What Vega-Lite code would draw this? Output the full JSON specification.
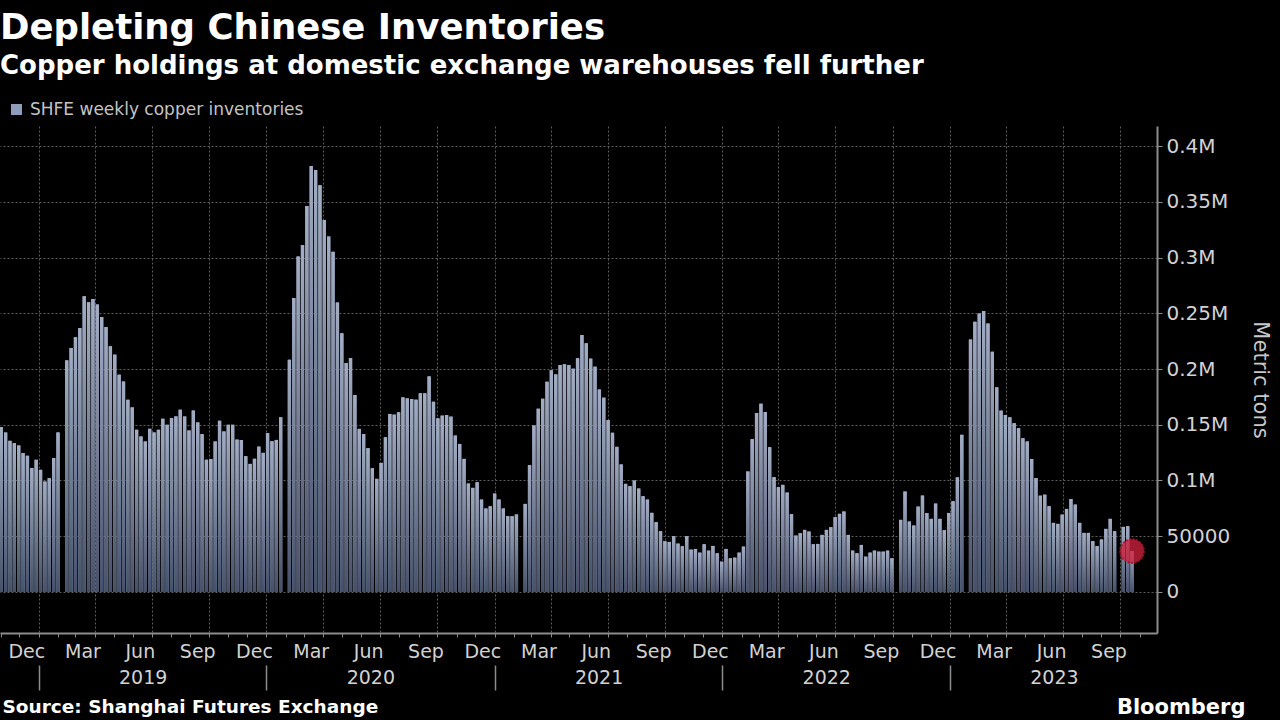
{
  "$schema": "https://vega.github.io/schema/vega-lite/v6.json",
  "width": 1157,
  "height": 507,
  "autosize": {"type": "none"},
  "padding": {"top": 126, "left": 0, "right": 123, "bottom": 87},
  "background": "#000000",
  "title": {
    "text": "Depleting Chinese Inventories",
    "subtitle": "Copper holdings at domestic exchange warehouses fell further",
    "anchor": "start",
    "frame": "group",
    "font": "DejaVu Sans",
    "fontSize": 35.5,
    "fontWeight": "bold",
    "color": "#ffffff",
    "subtitleFont": "DejaVu Sans",
    "subtitleFontSize": 26,
    "subtitleFontWeight": "bold",
    "subtitleColor": "#ffffff",
    "subtitlePadding": 7,
    "offset": 22
  },
  "config": {
    "view": {"stroke": null},
    "font": "DejaVu Sans"
  },
  "data": {
    "values": [
      {"date": "2018-11-02", "value": 147900}, {"date": "2018-11-09", "value": 143100}, {"date": "2018-11-16", "value": 135600}, {"date": "2018-11-23", "value": 133500}, {"date": "2018-11-30", "value": 131400},
      {"date": "2018-12-07", "value": 124600}, {"date": "2018-12-14", "value": 122200}, {"date": "2018-12-21", "value": 111100}, {"date": "2018-12-28", "value": 118600},
      {"date": "2019-01-04", "value": 109600}, {"date": "2019-01-11", "value": 99100}, {"date": "2019-01-18", "value": 102100}, {"date": "2019-01-25", "value": 120100}, {"date": "2019-02-01", "value": 143100},
      {"date": "2019-02-15", "value": 207800}, {"date": "2019-02-22", "value": 218900}, {"date": "2019-03-01", "value": 228400}, {"date": "2019-03-08", "value": 236800}, {"date": "2019-03-15", "value": 265300},
      {"date": "2019-03-22", "value": 259900}, {"date": "2019-03-29", "value": 262900}, {"date": "2019-04-05", "value": 257800}, {"date": "2019-04-12", "value": 246700}, {"date": "2019-04-19", "value": 237700},
      {"date": "2019-04-26", "value": 220400}, {"date": "2019-05-03", "value": 212900}, {"date": "2019-05-10", "value": 194900}, {"date": "2019-05-17", "value": 188900}, {"date": "2019-05-24", "value": 172500},
      {"date": "2019-05-31", "value": 165600}, {"date": "2019-06-07", "value": 145500}, {"date": "2019-06-14", "value": 139500}, {"date": "2019-06-21", "value": 135000}, {"date": "2019-06-28", "value": 146400},
      {"date": "2019-07-05", "value": 143100}, {"date": "2019-07-12", "value": 145500}, {"date": "2019-07-19", "value": 155400}, {"date": "2019-07-26", "value": 150000}, {"date": "2019-08-02", "value": 156000},
      {"date": "2019-08-09", "value": 157500}, {"date": "2019-08-16", "value": 163500}, {"date": "2019-08-23", "value": 157500}, {"date": "2019-08-30", "value": 144900}, {"date": "2019-09-06", "value": 162900},
      {"date": "2019-09-13", "value": 152100}, {"date": "2019-09-20", "value": 141600}, {"date": "2019-09-27", "value": 118600}, {"date": "2019-10-04", "value": 119200}, {"date": "2019-10-11", "value": 135000},
      {"date": "2019-10-18", "value": 153600}, {"date": "2019-10-25", "value": 144000}, {"date": "2019-11-01", "value": 150000}, {"date": "2019-11-08", "value": 150000},
      {"date": "2019-11-15", "value": 136700}, {"date": "2019-11-22", "value": 136400}, {"date": "2019-11-29", "value": 121800}, {"date": "2019-12-06", "value": 114900}, {"date": "2019-12-13", "value": 119400},
      {"date": "2019-12-20", "value": 130400}, {"date": "2019-12-27", "value": 124800}, {"date": "2020-01-03", "value": 142700}, {"date": "2020-01-10", "value": 135200}, {"date": "2020-01-17", "value": 136400},
      {"date": "2020-01-24", "value": 156700}, {"date": "2020-02-07", "value": 208400}, {"date": "2020-02-14", "value": 263600}, {"date": "2020-02-21", "value": 300900}, {"date": "2020-02-28", "value": 311300},
      {"date": "2020-03-06", "value": 346300}, {"date": "2020-03-13", "value": 382100}, {"date": "2020-03-20", "value": 378500}, {"date": "2020-03-27", "value": 364800}, {"date": "2020-04-03", "value": 333700},
      {"date": "2020-04-10", "value": 318800}, {"date": "2020-04-17", "value": 305100}, {"date": "2020-04-24", "value": 259700}, {"date": "2020-05-01", "value": 232200}, {"date": "2020-05-08", "value": 205400},
      {"date": "2020-05-15", "value": 209800}, {"date": "2020-05-22", "value": 176700}, {"date": "2020-05-29", "value": 146300}, {"date": "2020-06-05", "value": 141800}, {"date": "2020-06-12", "value": 129000},
      {"date": "2020-06-19", "value": 111000}, {"date": "2020-06-26", "value": 101500}, {"date": "2020-07-03", "value": 115800}, {"date": "2020-07-10", "value": 138800}, {"date": "2020-07-17", "value": 159700},
      {"date": "2020-07-24", "value": 159100}, {"date": "2020-07-31", "value": 161200}, {"date": "2020-08-07", "value": 174600}, {"date": "2020-08-14", "value": 173700}, {"date": "2020-08-21", "value": 173100},
      {"date": "2020-08-28", "value": 172500}, {"date": "2020-09-04", "value": 178200}, {"date": "2020-09-11", "value": 178200}, {"date": "2020-09-18", "value": 193400}, {"date": "2020-09-25", "value": 170700},
      {"date": "2020-10-02", "value": 155800}, {"date": "2020-10-09", "value": 158200}, {"date": "2020-10-16", "value": 158800}, {"date": "2020-10-23", "value": 157300}, {"date": "2020-10-30", "value": 140300},
      {"date": "2020-11-06", "value": 132800}, {"date": "2020-11-13", "value": 119400},
      {"date": "2020-11-20", "value": 97300}, {"date": "2020-11-27", "value": 93400}, {"date": "2020-12-04", "value": 98500}, {"date": "2020-12-11", "value": 82900}, {"date": "2020-12-18", "value": 74900},
      {"date": "2020-12-25", "value": 76900}, {"date": "2021-01-01", "value": 88300}, {"date": "2021-01-08", "value": 82900}, {"date": "2021-01-15", "value": 74900}, {"date": "2021-01-22", "value": 68000},
      {"date": "2021-01-29", "value": 68000}, {"date": "2021-02-05", "value": 69500}, {"date": "2021-02-19", "value": 79000}, {"date": "2021-02-26", "value": 113800}, {"date": "2021-03-05", "value": 149400},
      {"date": "2021-03-12", "value": 164400}, {"date": "2021-03-19", "value": 173400}, {"date": "2021-03-26", "value": 188600}, {"date": "2021-04-02", "value": 198800}, {"date": "2021-04-09", "value": 195200},
      {"date": "2021-04-16", "value": 203600}, {"date": "2021-04-23", "value": 204200}, {"date": "2021-04-30", "value": 203600}, {"date": "2021-05-07", "value": 200300}, {"date": "2021-05-14", "value": 209600},
      {"date": "2021-05-21", "value": 230500}, {"date": "2021-05-28", "value": 223100}, {"date": "2021-06-04", "value": 209300}, {"date": "2021-06-11", "value": 202100}, {"date": "2021-06-18", "value": 181700},
      {"date": "2021-06-25", "value": 174300}, {"date": "2021-07-02", "value": 154200}, {"date": "2021-07-09", "value": 142800}, {"date": "2021-07-16", "value": 130200}, {"date": "2021-07-23", "value": 114400},
      {"date": "2021-07-30", "value": 97000}, {"date": "2021-08-06", "value": 94900}, {"date": "2021-08-13", "value": 100000}, {"date": "2021-08-20", "value": 92800}, {"date": "2021-08-27", "value": 85900},
      {"date": "2021-09-03", "value": 82900}, {"date": "2021-09-10", "value": 71000}, {"date": "2021-09-17", "value": 62600}, {"date": "2021-09-24", "value": 54500}, {"date": "2021-10-01", "value": 45500},
      {"date": "2021-10-08", "value": 44900}, {"date": "2021-10-15", "value": 50000}, {"date": "2021-10-22", "value": 43400}, {"date": "2021-10-29", "value": 41000}, {"date": "2021-11-05", "value": 50000},
      {"date": "2021-11-12", "value": 38000}, {"date": "2021-11-19", "value": 38600},
      {"date": "2021-11-26", "value": 35300}, {"date": "2021-12-03", "value": 42800}, {"date": "2021-12-10", "value": 37100}, {"date": "2021-12-17", "value": 41300}, {"date": "2021-12-24", "value": 34700},
      {"date": "2021-12-31", "value": 27200}, {"date": "2022-01-07", "value": 38600}, {"date": "2022-01-14", "value": 30200}, {"date": "2022-01-21", "value": 30800}, {"date": "2022-01-28", "value": 35300},
      {"date": "2022-02-04", "value": 40700}, {"date": "2022-02-11", "value": 108100}, {"date": "2022-02-18", "value": 137100}, {"date": "2022-02-25", "value": 160500}, {"date": "2022-03-04", "value": 168900},
      {"date": "2022-03-11", "value": 161400}, {"date": "2022-03-18", "value": 129900}, {"date": "2022-03-25", "value": 103000}, {"date": "2022-04-01", "value": 94000}, {"date": "2022-04-08", "value": 96100},
      {"date": "2022-04-15", "value": 89200}, {"date": "2022-04-22", "value": 69800}, {"date": "2022-04-29", "value": 50600}, {"date": "2022-05-06", "value": 52700}, {"date": "2022-05-13", "value": 55700},
      {"date": "2022-05-20", "value": 54200}, {"date": "2022-05-27", "value": 42800}, {"date": "2022-06-03", "value": 43100}, {"date": "2022-06-10", "value": 51200}, {"date": "2022-06-17", "value": 55700},
      {"date": "2022-06-24", "value": 58100}, {"date": "2022-07-01", "value": 67100}, {"date": "2022-07-08", "value": 70100}, {"date": "2022-07-15", "value": 72200}, {"date": "2022-07-22", "value": 51200},
      {"date": "2022-07-29", "value": 37100}, {"date": "2022-08-05", "value": 34700}, {"date": "2022-08-12", "value": 42200}, {"date": "2022-08-19", "value": 31700}, {"date": "2022-08-26", "value": 35300},
      {"date": "2022-09-02", "value": 37100}, {"date": "2022-09-09", "value": 36200}, {"date": "2022-09-16", "value": 36200}, {"date": "2022-09-23", "value": 37100}, {"date": "2022-09-30", "value": 30200},
      {"date": "2022-10-14", "value": 64700}, {"date": "2022-10-21", "value": 90100}, {"date": "2022-10-28", "value": 63200}, {"date": "2022-11-04", "value": 59600}, {"date": "2022-11-11", "value": 76600},
      {"date": "2022-11-18", "value": 86500}, {"date": "2022-11-25", "value": 70700},
      {"date": "2022-12-02", "value": 65600}, {"date": "2022-12-09", "value": 79300}, {"date": "2022-12-16", "value": 65600}, {"date": "2022-12-23", "value": 55400}, {"date": "2022-12-30", "value": 70900},
      {"date": "2023-01-06", "value": 81400}, {"date": "2023-01-13", "value": 102800}, {"date": "2023-01-20", "value": 141000}, {"date": "2023-02-03", "value": 226500}, {"date": "2023-02-10", "value": 242300},
      {"date": "2023-02-17", "value": 249700}, {"date": "2023-02-24", "value": 252100}, {"date": "2023-03-03", "value": 240800}, {"date": "2023-03-10", "value": 215500}, {"date": "2023-03-17", "value": 183600},
      {"date": "2023-03-24", "value": 162700}, {"date": "2023-03-31", "value": 158800}, {"date": "2023-04-07", "value": 156700}, {"date": "2023-04-14", "value": 151400}, {"date": "2023-04-21", "value": 146900},
      {"date": "2023-04-28", "value": 138000}, {"date": "2023-05-05", "value": 135000}, {"date": "2023-05-12", "value": 119200}, {"date": "2023-05-19", "value": 102200}, {"date": "2023-05-26", "value": 86400},
      {"date": "2023-06-02", "value": 87300}, {"date": "2023-06-09", "value": 76900}, {"date": "2023-06-16", "value": 62000}, {"date": "2023-06-23", "value": 61100}, {"date": "2023-06-30", "value": 69400},
      {"date": "2023-07-07", "value": 74500}, {"date": "2023-07-14", "value": 83400}, {"date": "2023-07-21", "value": 78400}, {"date": "2023-07-28", "value": 62000}, {"date": "2023-08-04", "value": 53000},
      {"date": "2023-08-11", "value": 53000}, {"date": "2023-08-18", "value": 45600}, {"date": "2023-08-25", "value": 41100}, {"date": "2023-09-01", "value": 47100}, {"date": "2023-09-08", "value": 56600},
      {"date": "2023-09-15", "value": 65600}, {"date": "2023-09-22", "value": 54500}, {"date": "2023-10-06", "value": 58400}, {"date": "2023-10-13", "value": 59000}, {"date": "2023-10-20", "value": 36700}
    ]
  },
  "resolve": {"scale": {"x": "shared", "y": "shared"}, "axis": {"x": "independent"}},
  "layer": [
    {
      "mark": {"type": "bar", "width": 3.3},
      "encoding": {
        "x": {
          "field": "date",
          "type": "temporal",
          "scale": {"type": "utc", "nice": false, "padding": 0, "domain": [{"year": 2018, "month": 10, "date": 31, "utc": true}, {"year": 2023, "month": 11, "date": 29, "utc": true}]},
          "axis": {
            "orient": "bottom",
            "title": "Bloomberg",
            "titleX": 1245,
            "titleY": 80,
            "titleAlign": "right",
            "titleAnchor": "end",
            "titleBaseline": "alphabetic",
            "titleFont": "DejaVu Sans",
            "titleFontSize": 21,
            "titleFontWeight": "bold",
            "titleColor": "#ffffff",
            "tickCount": {"interval": "month", "step": 1},
            "labelExpr": "indexof([11,2,5,8], utcmonth(datum.value)) >= 0 ? utcFormat(datum.value, '%b') : ''",
            "labelOffset": 7,
            "labelOverlap": false,
            "labelFlush": false,
            "labelBound": false,
            "labelFont": "DejaVu Sans",
            "labelFontSize": 19,
            "labelColor": "#d2d2d2",
            "labelPadding": 5,
            "tickSize": 4,
            "tickColor": "#8c8c8c",
            "domainColor": "#8c8c8c",
            "domainWidth": 2,
            "grid": true,
            "gridColor": "#5e5e5e",
            "gridDash": [2, 2],
            "gridOpacity": {"condition": {"test": "utcmonth(datum.value) % 3 == 0", "value": 1}, "value": 0}
          }
        },
        "y": {
          "field": "value",
          "type": "quantitative",
          "scale": {"domain": [-36800, 418000], "nice": false, "zero": false},
          "axis": {
            "orient": "right",
            "title": "Metric tons",
            "titleFont": "DejaVu Sans",
            "titleFontSize": 21,
            "titleFontWeight": "normal",
            "titleColor": "#c8c8c8",
            "titlePadding": 20,
            "values": [0, 50000, 100000, 150000, 200000, 250000, 300000, 350000, 400000],
            "labelExpr": "datum.value == 0 ? '0' : (datum.value == 50000 ? '50000' : format(datum.value / 1000000, '.2~f') + 'M')",
            "labelOverlap": false,
            "labelFont": "DejaVu Sans",
            "labelFontSize": 20,
            "labelColor": "#d2d2d2",
            "labelPadding": 4,
            "tickSize": 5,
            "tickColor": "#8c8c8c",
            "domainColor": "#8c8c8c",
            "domainWidth": 2,
            "grid": true,
            "gridColor": "#5e5e5e",
            "gridDash": [2, 2]
          }
        },
        "color": {
          "datum": "SHFE weekly copper inventories",
          "scale": {"range": ["#8e9cbc"]},
          "legend": {
            "orient": "none",
            "legendX": 8,
            "legendY": -25,
            "title": null,
            "padding": 0,
            "symbolType": "square",
            "symbolSize": 121,
            "symbolStrokeWidth": 0,
            "labelOffset": 5,
            "labelLimit": 600,
            "labelFont": "DejaVu Sans",
            "labelFontSize": 17,
            "labelColor": "#c4c4c4"
          }
        }
      }
    },
    {
      "mark": {
        "type": "bar",
        "width": 3.3,
        "fill": {
          "gradient": "linear",
          "x1": 0, "y1": 0, "x2": 0, "y2": 1,
          "stops": [{"offset": 0, "color": "#a3adc3"}, {"offset": 1, "color": "#465069"}]
        }
      },
      "encoding": {
        "x": {"field": "date", "type": "temporal", "axis": null},
        "y": {"field": "value", "type": "quantitative"}
      }
    },
    {
      "transform": [{"filter": "time(toDate(datum.date)) == utc(2023, 9, 20)"}],
      "mark": {"type": "circle", "size": 560, "fill": "#d0213c", "fillOpacity": 0.78, "stroke": "#a8122b", "strokeWidth": 2, "strokeDash": [2, 1.5], "strokeOpacity": 0.9},
      "encoding": {
        "x": {
          "field": "date",
          "type": "temporal",
          "axis": {
            "orient": "bottom",
            "offset": 32,
            "domain": false,
            "grid": false,
            "tickCount": {"interval": "year", "step": 1},
            "tickSize": 25,
            "tickWidth": 1.5,
            "tickColor": "#8c8c8c",
            "labelExpr": "utcFormat(datum.value, '%Y')",
            "labelOffset": 104,
            "labelPadding": -12.5,
            "labelBaseline": "middle",
            "labelFont": "DejaVu Sans",
            "labelFontSize": 19,
            "labelColor": "#d2d2d2",
            "labelOverlap": false,
            "labelFlush": false,
            "labelBound": false,
            "title": "Source: Shanghai Futures Exchange",
            "titleX": 2,
            "titleY": 47,
            "titleAlign": "left",
            "titleAnchor": "start",
            "titleBaseline": "alphabetic",
            "titleFont": "DejaVu Sans",
            "titleFontSize": 18.5,
            "titleFontWeight": "bold",
            "titleColor": "#ffffff"
          }
        },
        "y": {"field": "value", "type": "quantitative"}
      }
    }
  ]
}
